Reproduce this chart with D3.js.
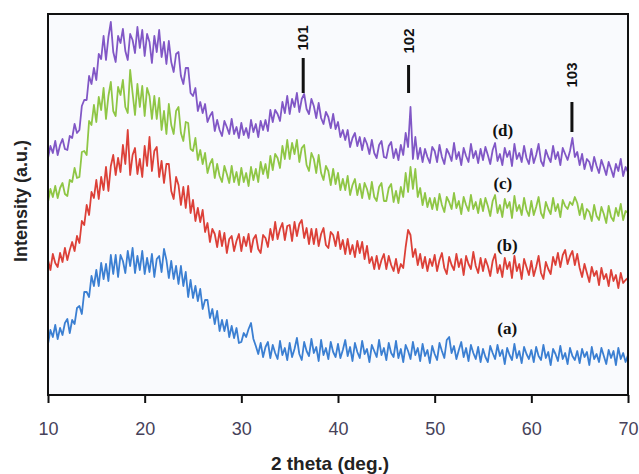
<!DOCTYPE html>
<html>
<head>
<meta charset="utf-8">
<script src="https://cdn.jsdelivr.net/npm/d3@7"></script>
<style>
  body { margin: 0; background: #fff; }
  svg { display: block; }
</style>
</head>
<body>
<div id="chart"></div>
<script>
// 2 theta grid, 0.25 deg steps from 10 to 70
const twoTheta = d3.range(0, 241).map(i => 10 + i * 0.25);

// intensities (a.u.), 20 values per 5 degrees
const seriesA = [
  51,65,58,70,56,67,60,72,76,62,75,71,87,89,81,103,103,98,119,109,
  125,109,132,116,131,114,140,121,140,118,140,134,122,144,129,147,122,139,125,144,
  121,137,123,141,118,136,139,123,146,135,117,134,116,129,111,129,109,123,98,115,
  97,109,94,106,86,95,95,77,86,71,84,64,75,64,75,58,69,57,67,52,
  53,62,58,66,72,56,49,41,52,38,48,53,37,50,42,36,54,40,47,35,
  52,38,46,57,41,35,53,44,39,56,42,48,34,55,40,47,36,53,43,38,
  51,37,45,55,39,48,34,52,43,37,54,41,46,33,50,44,38,55,40,47,
  35,52,42,38,54,37,46,33,50,44,36,53,40,47,34,51,39,45,32,49,
  41,35,52,44,37,55,58,42,49,36,45,53,38,47,34,50,42,36,48,33,
  46,38,33,49,42,36,50,39,45,31,47,40,35,51,37,44,32,48,41,36,
  45,33,48,39,35,50,37,43,30,46,41,34,49,36,42,31,47,39,35,44,
  32,46,38,43,30,48,36,41,33,47,39,31,45,37,44,30,47,36,42,33,
  40];

const seriesB = [
  135,125,141,132,128,142,133,147,135,145,153,144,159,152,174,170,190,180,203,197,
  215,196,218,205,228,204,229,240,220,237,223,250,231,265,220,240,247,221,236,218,
  249,229,258,224,244,248,218,234,212,231,231,204,196,218,210,190,208,187,209,182,
  195,174,187,173,185,163,172,153,166,161,148,164,149,162,142,156,159,144,154,161,
  144,158,149,161,143,156,160,146,142,160,157,148,166,155,173,156,166,172,155,169,
  170,154,173,159,171,175,157,167,151,166,151,166,149,161,167,150,147,163,160,149,
  163,146,155,141,156,141,150,138,154,142,153,136,149,132,138,126,139,126,135,141,
  126,139,130,124,136,122,131,127,148,165,160,138,146,130,141,127,138,124,136,129,
  140,124,135,142,127,121,138,130,125,141,128,136,120,139,131,126,143,129,122,137,
  124,136,129,119,134,141,122,130,118,137,126,133,117,139,124,131,116,136,128,120,
  134,119,128,139,122,116,133,126,121,138,130,142,128,140,145,131,139,144,130,141,
  127,118,131,122,113,128,119,124,110,127,116,121,109,125,114,120,107,122,112,115,
  117];

const seriesC = [
  193,206,198,209,197,207,212,201,199,215,213,227,217,218,243,244,240,274,270,290,
  273,298,285,307,276,299,313,284,279,308,300,315,288,282,325,302,280,311,288,309,
  279,307,299,276,299,276,297,265,284,261,291,270,261,284,288,262,254,273,272,246,
  244,257,235,245,231,242,222,231,236,217,231,219,213,229,221,212,229,213,223,210,
  227,213,222,209,228,215,226,213,233,221,231,217,239,225,241,237,227,249,236,255,
  236,252,241,255,233,247,250,230,224,242,236,222,240,222,215,229,224,210,226,211,
  222,205,216,205,219,200,210,216,200,211,197,212,206,196,213,198,194,208,212,194,
  194,207,211,193,204,192,208,198,222,203,228,206,226,198,207,190,202,188,197,186,
  197,185,201,190,183,198,193,186,202,187,194,181,198,190,184,200,186,193,182,196,
  184,197,189,179,194,200,182,190,178,196,187,193,177,199,184,190,180,197,185,179,
  194,180,188,198,182,177,193,186,181,197,184,191,178,195,189,186,193,190,198,192,
  180,191,176,186,183,174,190,179,175,188,181,172,189,178,174,187,179,191,175,184,
  182];

const seriesD = [
  237,249,242,254,240,250,256,246,245,259,257,271,262,265,289,295,295,319,311,327,
  315,341,336,359,335,358,373,343,333,359,352,366,344,335,361,355,342,368,347,365,
  339,361,353,332,359,343,365,338,353,331,354,333,323,341,343,319,311,327,327,302,
  299,307,284,293,282,291,273,279,283,264,275,265,259,274,268,261,276,261,268,257,
  272,260,267,257,275,263,271,258,274,265,275,264,285,273,285,281,274,293,282,299,
  281,296,288,302,283,296,301,286,281,296,289,277,292,277,271,283,278,267,281,266,
  273,258,265,255,265,248,257,262,249,258,245,257,251,241,255,242,237,250,254,238,
  237,249,253,237,246,235,250,240,262,248,288,236,258,236,247,233,246,238,232,248,
  244,233,250,238,231,246,241,234,252,236,243,230,247,239,233,251,237,244,232,246,
  235,248,240,231,245,252,234,241,230,247,238,244,229,251,236,242,233,249,237,231,
  246,232,240,251,234,229,245,238,233,249,236,243,230,247,241,235,244,257,238,243,
  230,241,226,236,233,224,238,229,222,235,228,220,233,226,218,231,224,236,219,228,
  223];

const seriesNames = ["(a)", "(b)", "(c)", "(d)"];
const seriesColors = ["#3b7fd2", "#dc4038", "#8fc645", "#8157c6"];
const labelX = [57.5, 57.5, 57.05, 57.05];
const labelY = [67, 150, 212, 265];

const peakNames = ["101", "102", "103"];
const peakPos = [36.4, 47.3, 64.2];
const peakLineTop = [337, 330, 293];
const peakLineBottom = [302, 302, 263];
const peakTextY = [357, 354, 320];

const xTicks = [10, 20, 30, 40, 50, 60, 70];

const W = 639, H = 474;
const margin = { top: 14, right: 11, bottom: 79, left: 48 };
const width = W - margin.left - margin.right;
const height = H - margin.top - margin.bottom;

const svg = d3.select("#chart").append("svg")
  .attr("width", W)
  .attr("height", H)
  .style("background", "#fff");

const g = svg.append("g")
  .attr("transform", `translate(${margin.left},${margin.top})`);

const x = d3.scaleLinear().domain([10, 70]).range([0, width]);
const y = d3.scaleLinear().domain([0, 381]).range([height, 0]);

g.append("rect")
  .attr("width", width)
  .attr("height", height)
  .attr("fill", "#f9fafd");

const line = d3.line()
  .x((d, i) => x(twoTheta[i]))
  .y(d => y(d));

[seriesA, seriesB, seriesC, seriesD].forEach((s, k) => {
  g.append("path")
    .datum(s)
    .attr("d", line)
    .attr("fill", "none")
    .attr("stroke", seriesColors[k])
    .attr("stroke-width", 1.8)
    .attr("stroke-linejoin", "round");
});

// series labels
g.selectAll(".slabel")
  .data(seriesNames)
  .enter().append("text")
  .attr("class", "slabel")
  .attr("x", (d, i) => x(labelX[i]))
  .attr("y", (d, i) => y(labelY[i]))
  .attr("dy", "0.35em")
  .attr("text-anchor", "middle")
  .style("font-family", "'Liberation Serif', 'Times New Roman', serif")
  .style("font-weight", "bold")
  .style("font-size", "17px")
  .attr("fill", "#111")
  .text(d => d);

// peak markers
peakNames.forEach((p, i) => {
  g.append("line")
    .attr("x1", x(peakPos[i])).attr("x2", x(peakPos[i]))
    .attr("y1", y(peakLineTop[i])).attr("y2", y(peakLineBottom[i]))
    .attr("stroke", "#111")
    .attr("stroke-width", 3);
  g.append("text")
    .attr("transform", `translate(${x(peakPos[i])},${y(peakTextY[i])}) rotate(-90)`)
    .attr("text-anchor", "middle")
    .attr("dy", "0.35em")
    .style("font-family", "'Liberation Sans', Arial, sans-serif")
    .style("font-weight", "bold")
    .style("font-size", "15px")
    .attr("fill", "#111")
    .text(p);
});

// frame
g.append("rect")
  .attr("width", width)
  .attr("height", height)
  .attr("fill", "none")
  .attr("stroke", "#111")
  .attr("stroke-width", 2);

const xAxis = d3.axisBottom(x)
  .tickValues(xTicks)
  .tickSize(8)
  .tickSizeOuter(0)
  .tickPadding(19);

const xg = g.append("g")
  .attr("transform", `translate(0,${height})`)
  .call(xAxis);
xg.select(".domain").remove();
xg.selectAll(".tick line").attr("stroke", "#111").attr("stroke-width", 2);
xg.selectAll(".tick text")
  .style("font-family", "'Liberation Sans Narrow', 'Arial Narrow', 'Liberation Sans', Arial, sans-serif")
  .style("font-size", "18px")
  .attr("fill", "#46425a");

svg.append("text")
  .attr("x", 330)
  .attr("y", 470)
  .attr("text-anchor", "middle")
  .style("font-family", "'Liberation Sans', Arial, sans-serif")
  .style("font-weight", "bold")
  .style("font-size", "19px")
  .attr("fill", "#222")
  .text("2 theta (deg.)");

svg.append("text")
  .attr("transform", "translate(21,201) rotate(-90)")
  .attr("text-anchor", "middle")
  .attr("dy", "0.35em")
  .style("font-family", "'Liberation Sans', Arial, sans-serif")
  .style("font-weight", "bold")
  .style("font-size", "18px")
  .attr("fill", "#222")
  .text("Intensity (a.u.)");
</script>
</body>
</html>
